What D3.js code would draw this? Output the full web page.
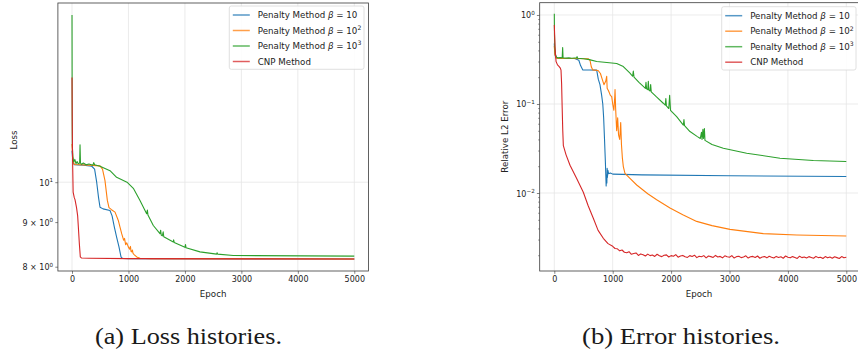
<!DOCTYPE html>
<html><head><meta charset="utf-8">
<script src="https://cdn.jsdelivr.net/npm/d3@7"></script>
<style>body{margin:0;background:#fff}svg{display:block}</style>
</head><body>
<svg id="c" width="858" height="351"></svg>
<script>
// ---------- data ----------
const seriesNames = ["Penalty Method β = 10", "Penalty Method β = 10^2", "Penalty Method β = 10^3", "CNP Method"];
const legendExps = ["", "2", "3", null];
const seriesColors = ["#1f77b4", "#ff7f0e", "#2ca02c", "#d62728"];
const xTicks = [0, 1000, 2000, 3000, 4000, 5000];

// (a) loss histories  [epoch, loss]
const lossP10 = [[0,10.87],[15,10.55],[40,10.47],[200,10.46],[350,10.43],[400,10.35],[437,10.0],[470,9.6],[496,9.36],[550,9.32],[673,9.28],[710,9.15],[750,8.88],[790,8.65],[832,8.43],[868,8.21],[897,8.175],[1000,8.172],[5000,8.165]];
const lossP100 = [[0,11.06],[15,10.6],[40,10.48],[300,10.46],[496,10.44],[540,10.35],[584,10.04],[626,9.53],[655,9.35],[700,9.30],[762,9.24],[820,9.04],[850,8.88],[880,8.73],[914,8.58],[930,8.62],[950,8.48],[970,8.52],[997,8.43],[1020,8.38],[1035,8.44],[1045,8.33],[1057,8.32],[1070,8.36],[1080,8.29],[1100,8.26],[1146,8.21],[1204,8.18],[1400,8.172],[5000,8.166]];
const lossP1000 = [[0,15.55],[3,12.0],[6,11.0],[15,10.7],[30,10.55],[50,10.62],[70,10.5],[90,10.56],[110,10.5],[135,10.52],[142,11.04],[150,10.52],[170,10.48],[200,10.52],[250,10.47],[300,10.49],[370,10.46],[385,10.53],[400,10.47],[496,10.43],[673,10.31],[790,10.13],[974,10.0],[1091,9.83],[1204,9.53],[1322,9.20],[1335,9.29],[1345,9.17],[1440,8.92],[1558,8.73],[1570,8.81],[1580,8.70],[1600,8.68],[1615,8.77],[1625,8.66],[1794,8.54],[1800,8.59],[1810,8.53],[2000,8.42],[2010,8.48],[2020,8.41],[2267,8.32],[2562,8.27],[2570,8.30],[2580,8.27],[2857,8.24],[5000,8.226]];
const lossCNP = [[0,13.18],[5,11.5],[10,10.6],[20,9.74],[40,9.6],[53,9.55],[80,9.35],[100,9.15],[112,8.89],[130,8.5],[147,8.21],[170,8.185],[300,8.18],[1000,8.172],[3000,8.168],[5000,8.165]];

// (b) error histories  [epoch, relative L2 error]
const errP10 = [[0,0.48],[10,0.36],[30,0.33],[60,0.325],[200,0.325],[350,0.325],[420,0.31],[450,0.27],[486,0.242],[600,0.241],[726,0.24],[753,0.19],[782,0.165],[811,0.125],[830,0.1],[845,0.07],[860,0.04],[875,0.022],[888,0.012],[895,0.016],[900,0.013],[905,0.019],[910,0.015],[918,0.018],[930,0.0165],[960,0.0168],[1000,0.0163],[1500,0.016],[3000,0.0156],[5000,0.0153]];
const errP100 = [[0,0.45],[10,0.36],[30,0.33],[60,0.325],[300,0.325],[580,0.322],[611,0.31],[635,0.26],[657,0.242],[750,0.238],[790,0.22],[820,0.19],[850,0.165],[880,0.18],[897,0.205],[905,0.15],[930,0.14],[960,0.125],[983,0.121],[1000,0.10],[1020,0.085],[1035,0.12],[1040,0.145],[1050,0.09],[1068,0.05],[1085,0.07],[1100,0.045],[1120,0.04],[1137,0.062],[1150,0.035],[1165,0.025],[1182,0.0198],[1210,0.0166],[1300,0.0145],[1411,0.0123],[1600,0.0098],[1753,0.0084],[1981,0.0068],[2200,0.0057],[2438,0.0048],[2700,0.0043],[3009,0.0039],[3579,0.0035],[4150,0.00338],[5000,0.00329]];
const errP1000 = [[0,1.03],[3,0.6],[8,0.44],[20,0.36],[40,0.335],[60,0.33],[100,0.332],[135,0.33],[143,0.43],[150,0.33],[200,0.328],[250,0.33],[300,0.327],[380,0.33],[390,0.34],[400,0.327],[500,0.322],[600,0.315],[726,0.30],[900,0.293],[1068,0.285],[1182,0.263],[1296,0.222],[1340,0.205],[1353,0.235],[1365,0.2],[1450,0.175],[1524,0.158],[1560,0.150],[1570,0.175],[1580,0.148],[1600,0.145],[1610,0.18],[1620,0.143],[1640,0.14],[1650,0.165],[1660,0.137],[1750,0.12],[1866,0.102],[1900,0.097],[1910,0.115],[1920,0.095],[1960,0.089],[1975,0.125],[1990,0.085],[2095,0.072],[2210,0.058],[2220,0.067],[2230,0.057],[2323,0.049],[2450,0.043],[2500,0.041],[2520,0.048],[2530,0.040],[2545,0.052],[2555,0.041],[2570,0.053],[2580,0.039],[2700,0.035],[2894,0.0318],[3294,0.028],[3865,0.0246],[4435,0.0232],[5000,0.0226]];
const errCNP = [[0,0.77],[15,0.40],[30,0.30],[55,0.275],[80,0.265],[100,0.255],[115,0.24],[125,0.17],[135,0.09],[145,0.05],[155,0.034],[200,0.027],[269,0.0205],[383,0.0146],[497,0.0102],[580,0.0072],[668,0.0052],[750,0.0038],[839,0.0031],[920,0.0027],
[1000,0.00252],[1040,0.00238],[1080,0.00236],[1120,0.00224],[1160,0.00229],[1200,0.00216],[1240,0.00213],[1280,0.00219],[1320,0.00205],[1360,0.00209],[1400,0.00212],[1440,0.00199],[1480,0.00207],[1520,0.00203],[1560,0.00196],[1600,0.00206],[1640,0.00198],[1680,0.00201],[1720,0.00194],[1760,0.00205],[1800,0.00197],[1840,0.00193],[1880,0.00200],[1920,0.00202],[1960,0.00191],[2000,0.00198],[2040,0.00195],[2080,0.00203],[2120,0.00190],[2160,0.00196],[2200,0.00199],[2240,0.00192],[2280,0.00189],[2320,0.00198],[2360,0.00194],[2400,0.00200],[2440,0.00188],[2480,0.00195],[2520,0.00192],[2560,0.00198],[2600,0.00187],[2640,0.00196],[2680,0.00193],[2720,0.00189],[2760,0.00199],[2800,0.00191],[2840,0.00194],[2880,0.00187],[2920,0.00197],[2960,0.00192],[3000,0.00190],[3040,0.00198],[3080,0.00186],[3120,0.00193],[3160,0.00195],[3200,0.00188],[3240,0.00191],[3280,0.00197],[3320,0.00186],[3360,0.00192],[3400,0.00194],[3440,0.00189],[3480,0.00196],[3520,0.00185],[3560,0.00191],[3600,0.00193],[3640,0.00187],[3680,0.00195],[3720,0.00190],[3760,0.00186],[3800,0.00194],[3840,0.00189],[3880,0.00192],[3920,0.00185],[3960,0.00196],[4000,0.00190],[4040,0.00187],[4080,0.00193],[4120,0.00189],[4160,0.00184],[4200,0.00195],[4240,0.00188],[4280,0.00191],[4320,0.00186],[4360,0.00193],[4400,0.00189],[4440,0.00185],[4480,0.00194],[4520,0.00188],[4560,0.00190],[4600,0.00184],[4640,0.00193],[4680,0.00187],[4720,0.00191],[4760,0.00185],[4800,0.00192],[4840,0.00188],[4880,0.00184],[4920,0.00193],[4960,0.00187],[5000,0.00190]];

// tick labels
const lossYTicks = [8, 9, 10];
const lossYLabels = [["8 × 10", "0"], ["9 × 10", "0"], ["10", "1"]];
const lossYMajor = [10];
const errYTicks = [0.01, 0.1, 1];
const errYLabels = [["10", "−2"], ["10", "−1"], ["10", "0"]];
const captions = ["(a) Loss histories.", "(b) Error histories."];

// ---------- drawing ----------
const svg = d3.select("#c");
const SANS = "DejaVu Sans";
const TICK_FS = 8, LABEL_FS = 8.7, LEG_FS = 8.7;

function supText(sel, base, sup, fs) {
  sel.append("tspan").text(base);
  if (sup != null) sel.append("tspan").attr("font-size", fs * 0.7).attr("dy", -fs * 0.42).text(sup);
}

function panel(p) {
  const g = svg.append("g");
  const x = d3.scaleLinear().domain([-250, 5250]).range([p.x0, p.x1]);
  const y = d3.scaleLog().domain(p.yDomain).range([p.y1, p.y0]);
  const cid = "clip" + p.id;
  svg.append("clipPath").attr("id", cid).append("rect")
    .attr("x", p.x0).attr("y", p.y0).attr("width", p.x1 - p.x0).attr("height", p.y1 - p.y0);

  // grid
  g.append("g").selectAll("line").data(xTicks).join("line")
    .attr("x1", d => x(d)).attr("x2", d => x(d)).attr("y1", p.y0).attr("y2", p.y1)
    .attr("stroke", "#e6e6e6").attr("stroke-width", 0.8);
  g.append("g").selectAll("line").data(p.yMajor).join("line")
    .attr("y1", d => y(d)).attr("y2", d => y(d)).attr("x1", p.x0).attr("x2", p.x1)
    .attr("stroke", "#e6e6e6").attr("stroke-width", 0.8);

  // lines
  const line = d3.line().x(d => x(d[0])).y(d => y(d[1]));
  g.append("g").attr("clip-path", `url(#${cid})`).selectAll("path").data(p.series).join("path")
    .attr("d", d => line(d)).attr("fill", "none")
    .attr("stroke", (d, i) => seriesColors[i]).attr("stroke-width", 1.1)
    .attr("stroke-linejoin", "round");

  // x axis
  const xa = g.append("g").attr("transform", `translate(0,${p.y1})`)
    .call(d3.axisBottom(x).tickValues(xTicks).tickSize(2.8).tickPadding(2.3).tickFormat(d3.format("d")));
  xa.select(".domain").remove();
  xa.selectAll("line").attr("stroke", "#333").attr("stroke-width", 0.6);
  xa.selectAll("text").attr("font-family", SANS).attr("font-size", TICK_FS).attr("fill", "#222");

  // y axis (major / labelled ticks)
  const ya = g.append("g").attr("transform", `translate(${p.x0},0)`)
    .call(d3.axisLeft(y).tickValues(p.yTicks).tickSize(p.yTickLen).tickFormat(() => ""));
  ya.select(".domain").remove();
  ya.selectAll("line").attr("stroke", "#333").attr("stroke-width", 0.6);
  ya.selectAll(".tick").each(function (d, i) {
    const t = d3.select(this).append("text").attr("x", -(p.yTickLen + 2.2)).attr("y", 3)
      .attr("text-anchor", "end").attr("font-family", SANS).attr("font-size", TICK_FS).attr("fill", "#222");
    supText(t, p.yLabels[i][0], p.yLabels[i][1], TICK_FS);
  });
  if (p.yMinor) {
    const ym = g.append("g").attr("transform", `translate(${p.x0},0)`)
      .call(d3.axisLeft(y).tickValues(p.yMinor).tickSize(1.6).tickFormat(() => ""));
    ym.select(".domain").remove();
    ym.selectAll("line").attr("stroke", "#333").attr("stroke-width", 0.5);
  }

  // frame
  g.append("rect").attr("x", p.x0).attr("y", p.y0).attr("width", p.x1 - p.x0).attr("height", p.y1 - p.y0)
    .attr("fill", "none").attr("stroke", "#3a3a3a").attr("stroke-width", 0.8);

  // axis labels
  g.append("text").attr("x", (p.x0 + p.x1) / 2 + p.xlabelShift).attr("y", p.y1 + 25.5).attr("text-anchor", "middle")
    .attr("font-family", SANS).attr("font-size", LABEL_FS).attr("fill", "#222").text("Epoch");
  g.append("text").attr("transform", `translate(${p.ylabelX},${p.ylabelY}) rotate(-90)`).attr("text-anchor", "middle")
    .attr("font-family", SANS).attr("font-size", LABEL_FS).attr("fill", "#222").text(p.ylabel);

  // legend
  const lg = g.append("g");
  lg.append("rect").attr("x", p.lx).attr("y", p.ly).attr("width", p.lw).attr("height", 63.3).attr("rx", 2)
    .attr("fill", "#fff").attr("fill-opacity", 0.85).attr("stroke", "#d8d8d8").attr("stroke-width", 0.8);
  seriesNames.forEach((name, i) => {
    const cy = p.ly + 9 + i * 15.5;
    lg.append("line").attr("x1", p.lx + 3.5).attr("x2", p.lx + 20.5).attr("y1", cy).attr("y2", cy)
      .attr("stroke", seriesColors[i]).attr("stroke-width", 1.5).attr("stroke-opacity", 0.75);
    const t = lg.append("text").attr("x", p.lx + 28.5).attr("y", cy + 3.1)
      .attr("font-family", SANS).attr("font-size", LEG_FS).attr("fill", "#222");
    if (legendExps[i] === null) { t.text(name); }
    else {
      t.append("tspan").text("Penalty Method ");
      t.append("tspan").attr("font-style", "italic").text("β");
      t.append("tspan").text(" = 10");
      if (legendExps[i]) t.append("tspan").attr("font-size", LEG_FS * 0.7).attr("dy", -LEG_FS * 0.42).text(legendExps[i]);
    }
  });
}

const errMinor = [];
[0.001, 0.01, 0.1].forEach(dec => [2,3,4,5,6,7,8,9].forEach(m => errMinor.push(m * dec)));

panel({ id: "a", x0: 57.9, x1: 368.4, y0: 3, y1: 271, yDomain: [7.91, 16.05],
  series: [lossP10, lossP100, lossP1000, lossCNP],
  yTicks: lossYTicks, yLabels: lossYLabels, yMajor: lossYMajor, yTickLen: 2.6, yMinor: null,
  ylabel: "Loss", ylabelX: 16.5, ylabelY: 140, xlabelShift: 0,
  lx: 229.3, ly: 6, lw: 134.7 });

panel({ id: "b", x0: 539.7, x1: 860.9, y0: 2.7, y1: 271, yDomain: [0.00133, 1.374],
  series: [errP10, errP100, errP1000, errCNP],
  yTicks: errYTicks, yLabels: errYLabels, yMajor: errYTicks, yTickLen: 2.8, yMinor: errMinor.filter(v => v > 0.00133),
  ylabel: "Relative L2 Error", ylabelX: 508, ylabelY: 136.7, xlabelShift: -1.3,
  lx: 721.7, ly: 6.7, lw: 134.3 });

// captions
const capX = [95, 582], capW = [187, 198];
captions.forEach((c, i) => {
  svg.append("text").attr("x", capX[i]).attr("y", 344.3)
    .attr("font-family", "Liberation Serif, serif").attr("font-size", 23).attr("fill", "#1a1a1a")
    .attr("textLength", capW[i]).attr("lengthAdjust", "spacingAndGlyphs").text(c);
});
</script>
</body></html>
